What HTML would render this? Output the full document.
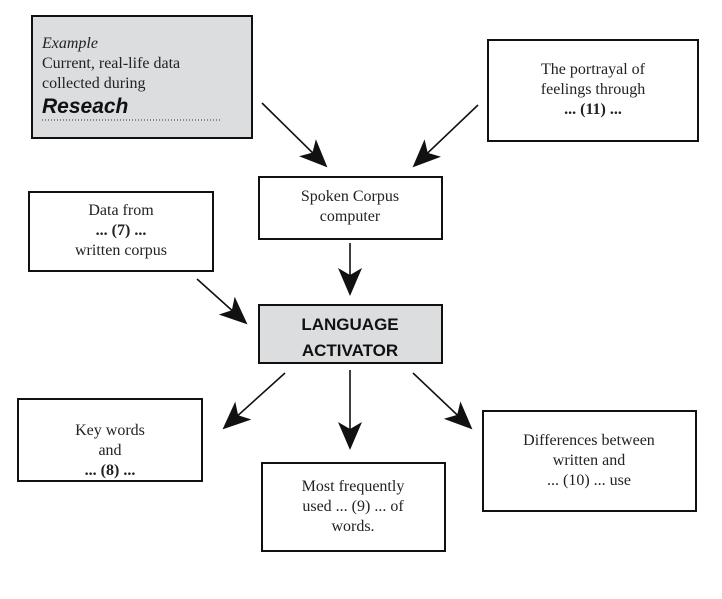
<!DOCTYPE html>
<html><head><style>
html,body{margin:0;padding:0;background:#fff;}
svg text{font-family:"Liberation Serif",serif;font-size:16px;fill:#222;}
.s{font-family:"Liberation Sans",sans-serif;font-weight:bold;font-size:17px;fill:#111;}
</style></head><body>
<svg width="722" height="594" viewBox="0 0 722 594" xmlns="http://www.w3.org/2000/svg">
<defs>
<marker id="a" markerWidth="28" markerHeight="24" refX="26" refY="12" orient="auto" markerUnits="userSpaceOnUse">
<path d="M0,0 L28,12 L0,24 L7,12 Z" fill="#111"/>
</marker>
</defs>
<g stroke="#111" stroke-width="2" fill="none">
<rect x="32" y="16" width="220" height="122" fill="#dcdddf"/>
<rect x="488" y="40" width="210" height="101" fill="#fff"/>
<rect x="259" y="177" width="183" height="62" fill="#fff"/>
<rect x="29" y="192" width="184" height="79" fill="#fff"/>
<rect x="259" y="305" width="183" height="58" fill="#dcdddf"/>
<rect x="18" y="399" width="184" height="82" fill="#fff"/>
<rect x="262" y="463" width="183" height="88" fill="#fff"/>
<rect x="483" y="411" width="213" height="100" fill="#fff"/>
</g>
<g stroke="#111" stroke-width="1.6" marker-end="url(#a)">
<line x1="262" y1="103" x2="326" y2="166"/>
<line x1="478" y1="105" x2="414" y2="166"/>
<line x1="350" y1="243" x2="350" y2="294"/>
<line x1="197" y1="279" x2="246" y2="323"/>
<line x1="285" y1="373" x2="224" y2="428"/>
<line x1="350" y1="370" x2="350" y2="448"/>
<line x1="413" y1="373" x2="471" y2="428"/>
</g>
<text x="42" y="48" font-style="italic">Example</text>
<text x="42" y="68">Current, real-life data</text>
<text x="42" y="88">collected during</text>
<text x="42" y="113" style="font-family:'Liberation Sans',sans-serif;font-weight:bold;font-style:italic;font-size:21px;fill:#111">Reseach</text>
<line x1="42" y1="120" x2="222" y2="120" stroke="#333" stroke-width="1" stroke-dasharray="1,2"/>
<g text-anchor="middle">
<text x="593" y="74">The portrayal of</text>
<text x="593" y="94">feelings through</text>
<text x="593" y="114" font-weight="bold">... (11) ...</text>
<text x="350" y="201">Spoken Corpus</text>
<text x="350" y="221">computer</text>
<text x="121" y="215">Data from</text>
<text x="121" y="235" font-weight="bold">... (7) ...</text>
<text x="121" y="255">written corpus</text>
<text x="350" y="330" class="s">LANGUAGE</text>
<text x="350" y="356" class="s">ACTIVATOR</text>
<text x="110" y="435">Key words</text>
<text x="110" y="455">and</text>
<text x="110" y="475" font-weight="bold">... (8) ...</text>
<text x="353" y="491">Most frequently</text>
<text x="353" y="511">used ... (9) ... of</text>
<text x="353" y="531">words.</text>
<text x="589" y="445">Differences between</text>
<text x="589" y="465">written and</text>
<text x="589" y="485">... (10) ... use</text>
</g>
</svg>
</body></html>
